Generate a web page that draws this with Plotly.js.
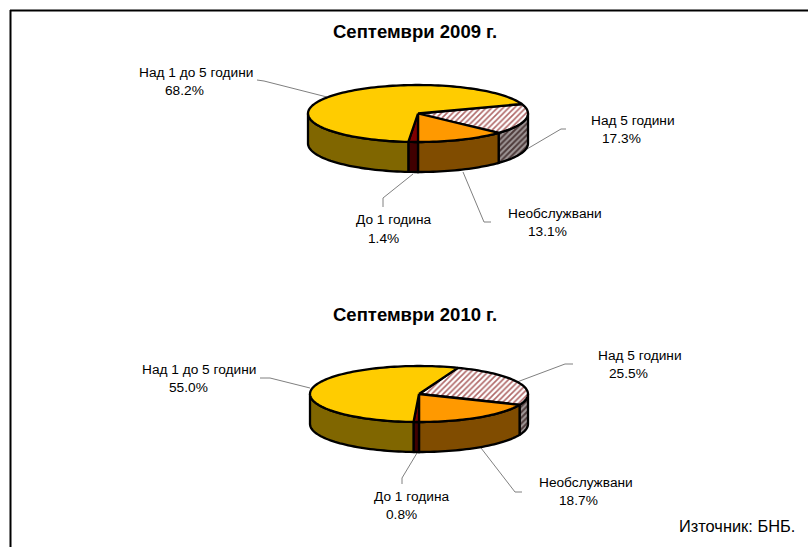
<!DOCTYPE html>
<html><head><meta charset="utf-8">
<script src="https://cdn.plot.ly/plotly-3.0.1.min.js"></script>
<style>html,body{margin:0;padding:0;background:#fff}</style>
</head><body><div id="chart" style="width:808px;height:547px"></div>
<script>
// Data, clockwise from the top of the pie's first drawn slice
var categories = ['Над 5 години', 'Необслужвани', 'До 1 година', 'Над 1 до 5 години'];
var values2009 = [17.3, 13.1, 1.4, 68.2];
var values2010 = [25.5, 18.7, 0.8, 55.0];
var titles = ['Септември 2009 г.', 'Септември 2010 г.'];
var sourceNote = 'Източник: БНБ.';

// Layout and style
var topColors = ['#ffffff', '#FF9900', '#800000', '#FFCC00'];
var sideColors = ['#808080', '#804C00', '#400000', '#806600'];
var pies = [
  {values: values2009, title: titles[0], titleY: 31, cx: 418, cy: 113.5, rx: 110, ry: 28.5, depth: 30,
   nameAt: [[632.5,120],[554.5,213],[393.5,219],[195.5,72]], pctAt: [[621.5,138],[547.5,231],[383,238],[184.5,90]],
   leaders: [[[527,149],[561,129],[566,129]],[[463,172],[484,222],[491,222]],[[413,174],[383,198],[383,207]],[[257,80],[264,81],[327,97]]]},
  {values: values2010, title: titles[1], titleY: 314, cx: 419, cy: 394, rx: 109, ry: 28, depth: 30,
   nameAt: [[639.5,355],[585.5,482],[411.5,496],[199,369]], pctAt: [[628,373],[578.5,500],[401,514],[188,387]],
   leaders: [[[517,382],[565,364],[573,364]],[[481,448],[515,492],[522,492]],[[417,453],[402,478],[402,484]],[[260,378],[270,378],[310,388]]]}
];

var traces = [], annotations = [];
var FONT = 'Liberation Sans, Arial, sans-serif';
function pt(p, deg, dy) {
  var a = deg * Math.PI / 180;
  return [p.cx + p.rx * Math.sin(a), p.cy - p.ry * Math.cos(a) + (dy || 0)];
}
function arc(p, a, b, dy) {
  var out = [], n = Math.max(2, Math.ceil(Math.abs(b - a) / 2));
  for (var i = 0; i <= n; i++) out.push(pt(p, a + (b - a) * i / n, dy));
  return out;
}
function poly(points, fill, pattern) {
  var t = {type: 'scatter', mode: 'lines', x: [], y: [], fill: 'toself', fillcolor: fill,
    line: {color: '#000', width: 2.3, simplify: false}, hoverinfo: 'skip', showlegend: false};
  points.forEach(function (q) { t.x.push(q[0]); t.y.push(q[1]); });
  t.x.push(points[0][0]); t.y.push(points[0][1]);
  if (pattern) t.fillpattern = pattern;
  traces.push(t);
}
function text(s, at, size, bold) {
  annotations.push({xref: 'x', yref: 'y', x: at[0], y: at[1], text: bold ? '<b>' + s + '</b>' : s,
    showarrow: false, xanchor: 'center', yanchor: 'middle',
    font: {family: FONT, size: size, color: '#000'}});
}
pies.forEach(function (p) {
  p.leaders.forEach(function (l) {
    traces.push({type: 'scatter', mode: 'lines', x: l.map(function (q) { return q[0]; }), y: l.map(function (q) { return q[1]; }),
      line: {color: '#808080', width: 1}, hoverinfo: 'skip', showlegend: false});
  });
  var total = p.values.reduce(function (s, v) { return s + v; }, 0);
  // Slice angles: the first two slices end at the bottom of the pie
  var start = 180 - (p.values[0] + p.values[1]) / total * 360;
  var ang = start, spans = p.values.map(function (v) {
    var s = [ang, ang + v / total * 360]; ang = s[1]; return s;
  });
  // Outer walls (front half only)
  spans.forEach(function (s, i) {
    var a = Math.max(s[0], 90), b = Math.min(s[1], 270);
    if (b <= a) return;
    var pts = arc(p, a, b, 0).concat(arc(p, b, a, p.depth));
    poly(pts, sideColors[i], i === 0 ? {shape: '/', fgcolor: '#4d3a3a', bgcolor: '#a09898', size: 4, solidity: 0.5} : null);
  });
  // Top faces
  spans.forEach(function (s, i) {
    var pts = [[p.cx, p.cy]].concat(arc(p, s[0], s[1], 0));
    poly(pts, topColors[i], i === 0 ? {shape: '/', fgcolor: '#B06868', bgcolor: '#ffffff', size: 4, solidity: 0.4} : null);
  });
  text(p.title, [415, p.titleY], 18.5, true);
  categories.forEach(function (c, i) {
    text(c, p.nameAt[i], 13.7, false);
    text(p.values[i].toFixed(1) + '%', p.pctAt[i], 13.7, false);
  });
});
text(sourceNote, [737, 526], 16.4, false);

Plotly.newPlot('chart', traces, {
  width: 808, height: 547, margin: {l: 0, r: 0, t: 0, b: 0},
  paper_bgcolor: '#fff', plot_bgcolor: '#fff', showlegend: false,
  xaxis: {range: [0, 808], visible: false, fixedrange: true},
  yaxis: {range: [547, 0], visible: false, fixedrange: true},
  annotations: annotations,
  shapes: [
    {type: 'line', xref: 'x', yref: 'y', x0: 10, x1: 808, y0: 10.5, y1: 10.5, line: {color: '#000', width: 2}},
    {type: 'line', xref: 'x', yref: 'y', x0: 10.5, x1: 10.5, y0: 10, y1: 547, line: {color: '#000', width: 2}}
  ]
}, {displayModeBar: false, staticPlot: true});
</script></body></html>
